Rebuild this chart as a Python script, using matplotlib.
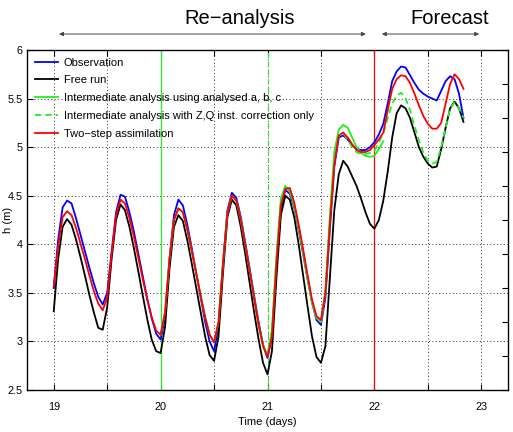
import numpy as np
import matplotlib
matplotlib.use("Agg")
import matplotlib.pyplot as plt

plt.rcParams['font.family'] = ['Liberation Sans', 'DejaVu Sans']

# hourly time axis (days)
t_start = 19.0
dt = 1.0 / 24.0

obs = [3.55, 4.05, 4.38, 4.45, 4.42, 4.27, 4.10, 3.93, 3.76, 3.60, 3.46, 3.38,
       3.50, 3.92, 4.33, 4.51, 4.49, 4.33, 4.13, 3.90, 3.67, 3.44, 3.24, 3.08,
       3.02, 3.25, 3.85, 4.30, 4.46, 4.40, 4.20, 3.96, 3.70, 3.45, 3.20, 3.00,
       2.90, 3.15, 3.80, 4.35, 4.53, 4.48, 4.28, 4.02, 3.75, 3.47, 3.20, 2.97,
       2.83, 3.05, 3.75, 4.35, 4.56, 4.52, 4.38, 4.15, 3.90, 3.64, 3.40, 3.22,
       3.17, 3.45, 4.15, 4.80, 5.10, 5.12, 5.08, 5.02, 4.98, 4.97, 4.97, 5.00,
       5.05, 5.13, 5.24, 5.45, 5.68, 5.78, 5.83, 5.82, 5.74, 5.66, 5.59, 5.55,
       5.52, 5.50, 5.48, 5.58, 5.68, 5.73, 5.70, 5.55, 5.30]

free_run = [3.31, 3.85, 4.18, 4.26, 4.20, 4.05, 3.87, 3.68, 3.48, 3.30, 3.14, 3.12,
            3.35, 3.85, 4.25, 4.41, 4.35, 4.18, 3.96, 3.72, 3.47, 3.23, 3.02, 2.90,
            2.88, 3.15, 3.75, 4.18, 4.30, 4.24, 4.04, 3.80, 3.55, 3.30, 3.05, 2.86,
            2.80, 3.05, 3.70, 4.28, 4.46, 4.40, 4.18, 3.90, 3.60, 3.30, 3.02, 2.78,
            2.66, 2.90, 3.65, 4.30, 4.50, 4.46, 4.28, 4.00, 3.68, 3.36, 3.05, 2.84,
            2.78, 2.95, 3.65, 4.35, 4.72, 4.86, 4.80, 4.70, 4.60, 4.47, 4.33, 4.21,
            4.16, 4.25, 4.45, 4.75, 5.10, 5.35, 5.43, 5.40, 5.30, 5.15, 5.00, 4.90,
            4.83, 4.79, 4.80, 4.98, 5.20, 5.40, 5.47, 5.40, 5.26]

# intermediate analysis (a, b, c) : from day 20 (index 24) to ~22.08
abc_start = 24
inter_abc = [3.07, 3.30, 3.85, 4.25, 4.37, 4.33, 4.15, 3.93, 3.70, 3.47, 3.25, 3.07,
             2.99, 3.20, 3.80, 4.32, 4.50, 4.45, 4.25, 3.99, 3.72, 3.44, 3.17, 2.96,
             2.86, 3.12, 3.88, 4.47, 4.60, 4.55, 4.40, 4.17, 3.92, 3.65, 3.40, 3.24,
             3.20, 3.52, 4.30, 4.95, 5.18, 5.23, 5.20, 5.10, 5.00, 4.94, 4.91, 4.90,
             4.91, 4.98, 5.06]

# intermediate analysis with Z,Q correction only : from day 21 (index 48)
zq_start = 48
inter_zq = [2.86, 3.10, 3.85, 4.45, 4.59, 4.55, 4.40, 4.17, 3.92, 3.65, 3.40, 3.24,
            3.20, 3.50, 4.22, 4.85, 5.12, 5.14, 5.08, 5.00, 4.95, 4.93, 4.93, 4.94,
            4.96, 5.05, 5.14, 5.30, 5.45, 5.53, 5.56, 5.50, 5.38, 5.22, 5.07, 4.94,
            4.86, 4.83, 4.85, 5.00, 5.20, 5.40, 5.46, 5.40, 5.30]

two_step = [3.57, 3.98, 4.28, 4.34, 4.30, 4.17, 4.01, 3.85, 3.68, 3.52, 3.39, 3.32,
            3.45, 3.90, 4.30, 4.46, 4.42, 4.27, 4.08, 3.86, 3.64, 3.43, 3.25, 3.11,
            3.07, 3.30, 3.85, 4.25, 4.37, 4.33, 4.15, 3.93, 3.70, 3.47, 3.25, 3.07,
            2.99, 3.20, 3.80, 4.32, 4.50, 4.45, 4.25, 3.99, 3.72, 3.44, 3.17, 2.95,
            2.84, 3.05, 3.80, 4.40, 4.57, 4.58, 4.43, 4.20, 3.95, 3.68, 3.43, 3.26,
            3.22, 3.50, 4.20, 4.82, 5.12, 5.15, 5.10, 5.03, 4.97, 4.95, 4.95, 4.97,
            5.02, 5.08, 5.15, 5.38, 5.60, 5.70, 5.74, 5.73, 5.66, 5.55, 5.43, 5.32,
            5.24, 5.19, 5.19, 5.25, 5.45, 5.65, 5.75, 5.70, 5.60]

labels = ['Observation', 'Free run', 'Intermediate analysis using analysed a, b, c',
          'Intermediate analysis with Z,Q inst. correction only', 'Two\u2212step assimilation']
xtick_vals = [19, 19.5, 20, 20.5, 21, 21.5, 22, 22.5, 23]
xtick_labels = ['19', '', '20', '', '21', '', '22', '', '23']
ytick_vals = [2.5, 3, 3.5, 4, 4.5, 5, 5.5, 6]
ytick_labels = ['2.5', '3', '3.5', '4', '4.5', '5', '5.5', '6']

t_all = t_start + dt * np.arange(len(obs))
t_abc = t_start + dt * (abc_start + np.arange(len(inter_abc)))
t_zq = t_start + dt * (zq_start + np.arange(len(inter_zq)))

W, H = 513, 432
fig = plt.figure(figsize=(W / 100, H / 100), dpi=100)
ax = fig.add_axes([27 / W, (H - 390) / H, (508 - 27) / W, (390 - 50) / H])

GREEN = '#22ee22'
lw = 1.3
ax.plot(t_all, obs, color='blue', lw=lw, label=labels[0], zorder=3)
ax.plot(t_all, free_run, color='black', lw=lw, label=labels[1], zorder=3)
ax.plot(t_abc, inter_abc, color=GREEN, lw=lw, label=labels[2], zorder=3)
ax.plot(t_zq, inter_zq, color=GREEN, lw=lw, ls=(0, (3.5, 2.2)), label=labels[3], zorder=3)
ax.plot(t_all, two_step, color='red', lw=lw, label=labels[4], zorder=4)

ax.axvline(20, color=GREEN, lw=0.9, zorder=2)
ax.axvline(21, color=GREEN, lw=0.9, ls=(0, (4, 3)), zorder=2)
ax.axvline(22, color='red', lw=0.9, zorder=2)

ax.set_xlim(18.75, 23.25)
ax.set_ylim(2.5, 6)
ax.set_xticks(xtick_vals)
ax.set_xticklabels(xtick_labels)
ax.set_yticks(ytick_vals)
ax.set_yticklabels(ytick_labels)
ax.tick_params(direction='in', length=4, width=0.8, labelsize=7.8, top=True, right=False)
ax.tick_params(axis='x', pad=9)
ax.tick_params(axis='y', pad=3)
ax.grid(True, ls=(0, (1, 2.5)), color='#333333', lw=0.7)
ax.set_xlabel('Time (days)', fontsize=8, labelpad=3)
ax.set_ylabel('h (m)', fontsize=8)
ax.yaxis.label.set_rotation_mode('default')
ax.yaxis.label.set_ha('center')
ax.yaxis.label.set_va('center')
ax.yaxis.set_label_coords((8 - 27) / (508 - 27), 0.5)
for s in ax.spines.values():
    s.set_linewidth(0.9)

ax2 = ax.twinx()
ax2.set_ylim(0, 1)
ax2.set_yticks(np.arange(0, 1.01, 0.1))
ax2.set_yticklabels([])
ax2.tick_params(direction='in', length=4, width=0.8)

leg = ax.legend(loc='upper left', bbox_to_anchor=(0, 1), borderaxespad=0,
                frameon=False, fontsize=8, handlelength=2.1, handletextpad=0.55,
                labelspacing=0.7, borderpad=0.68)
leg.set_zorder(10)

tr = ax.get_xaxis_transform()
ax.annotate('', xy=(19.05, 1.047), xytext=(21.92, 1.047), xycoords=tr, textcoords=tr,
            arrowprops=dict(arrowstyle='<|-|>', color='#444444', lw=0.7,
                            mutation_scale=6, shrinkA=0, shrinkB=0), annotation_clip=False)
ax.annotate('', xy=(22.07, 1.047), xytext=(22.98, 1.047), xycoords=tr, textcoords=tr,
            arrowprops=dict(arrowstyle='<|-|>', color='#444444', lw=0.7,
                            mutation_scale=6, shrinkA=0, shrinkB=0), annotation_clip=False)
ax.text(20.74, 1.094, 'Re\u2212analysis', transform=tr, ha='center', va='center', fontsize=14.5)
ax.text(22.70, 1.094, 'Forecast', transform=tr, ha='center', va='center', fontsize=14.5)

fig.savefig('out.png', dpi=100)
